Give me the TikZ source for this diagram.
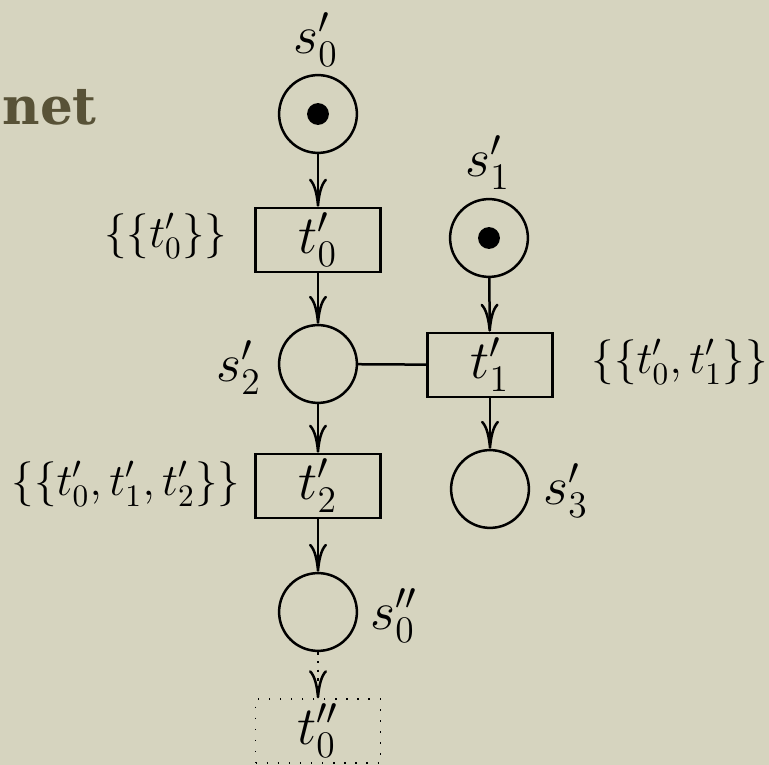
\documentclass[tikz,border=0pt]{standalone}
\usepackage{fontspec}
\usepackage{amsmath}
\usetikzlibrary{arrows.meta}
\newfontfamily\titlefont{DejaVu Serif}
\definecolor{paper}{RGB}{214,212,191}
\definecolor{titleolive}{RGB}{88,82,55}

\begin{document}
\begin{tikzpicture}[x=0.32pt,y=-0.32pt,
  place/.style={circle, draw, line width=0.8pt, minimum size=24.9pt, inner sep=0pt},
  trans/.style={rectangle, draw, line width=0.8pt, minimum width=40pt, minimum height=20.5pt, inner sep=0pt, font=\LARGE},
  ghost/.style={trans, line width=0.45pt, dash pattern=on 0.45pt off 3.1pt},
  token/.style={circle, fill, minimum size=7pt, inner sep=0pt},
  placelabel/.style={inner sep=0pt, font=\LARGE},
  history/.style={inner sep=0pt, font=\Large},
  arc/.style={line width=0.8pt, -{To[length=9pt,width=5.8pt]}},
  readarc/.style={line width=0.8pt}]
\fill[paper] (0,0) rectangle (769,765);
\useasboundingbox (0,0) rectangle (769,765);
\node[anchor=base west, inner sep=0pt, text=titleolive, font=\titlefont\bfseries\fontsize{16.5}{20}\selectfont] (title) at (2,125) {net};

% places
\node[place] (s0) at (318,114) {};
\node[token] (s0tok) at (s0) {};
\node[place] (s1) at (489,238) {};
\node[token] (s1tok) at (s1) {};
\node[place] (s2) at (318,364) {};
\node[place] (s3) at (490,489) {};
\node[place] (s0b) at (318,612) {};

% transitions
\node[trans] (t0) at (318,240) {$t'_0$};
\node[trans] (t1) at (490,365) {$t'_1$};
\node[trans] (t2) at (318,486) {$t'_2$};
\node[ghost] (t0b) at (318,731) {$t''_0$};

% place names
\node[placelabel] (s0lab) at (316,40) {$s'_0$};
\node[placelabel] (s1lab) at (488,163) {$s'_1$};
\node[placelabel] (s2lab) at (239,368) {$s'_2$};
\node[placelabel] (s3lab) at (566,491) {$s'_3$};
\node[placelabel] (s0blab) at (394,616) {$s''_0$};

% histories
\node[history, anchor=east] (h0) at (228,236) {$\{\{t'_0\}\}$};
\node[history, anchor=west] (h1) at (591,362) {$\{\{t'_0,t'_1\}\}$};
\node[history, anchor=east] (h2) at (241,484) {$\{\{t'_0,t'_1,t'_2\}\}$};

% arcs
\draw[arc] (s0) -- (t0);
\draw[arc] (t0) -- (s2);
\draw[arc] (s1) -- (t1);
\draw[arc] (t1) -- (s3);
\draw[arc] (s2) -- (t2);
\draw[arc] (t2) -- (s0b);
\draw[arc, dotted] (s0b) -- (t0b);
\draw[readarc] (s2) -- (t1);
\end{tikzpicture}
\end{document}
